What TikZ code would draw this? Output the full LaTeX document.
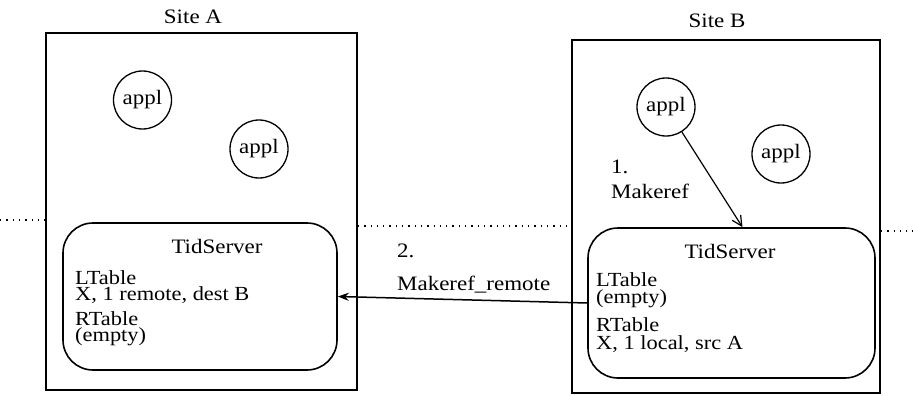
\documentclass[tikz,border=0pt]{standalone}
\usepackage{fontspec}
\setmainfont{Liberation Serif}[FakeStretch=1.12]
\usetikzlibrary{arrows.meta}
\begin{document}
\begin{tikzpicture}[x=1pt,y=-1pt,
  every node/.style={font=\fontsize{20.5}{25}\selectfont},
  sitebox/.style={draw,line width=1.8pt,inner sep=0pt},
  txt/.style={inner sep=0pt,anchor=base west},
  lbl/.style={inner sep=0pt,anchor=base},
  tbl/.style={inner sep=0pt,anchor=north west,align=left,
    font={\fontsize{20}{#1}\selectfont\lineskiplimit=-30pt}},
  appl/.style={draw,circle,line width=1.3pt,minimum size=58pt,inner sep=0pt},
  tid/.style={draw,rounded corners=30pt,line width=1.6pt,inner sep=0pt},
  dots/.style={line width=1.3pt,dash pattern=on 1.3pt off 5pt},
  msgA/.style={line width=1.5pt,-{Stealth[length=11pt,width=8pt]}},
  msgB/.style={line width=1.2pt,-{Straight Barb[length=10pt,width=10pt]}}]
\useasboundingbox (0,0) rectangle (913,396);

% site boxes
\node[sitebox,minimum width=311pt,minimum height=357pt] (boxA) at (201.5,211.5) {};
\node[sitebox,minimum width=308pt,minimum height=353pt] (boxB) at (726,216.5) {};
\node[lbl] (siteA) at (193,24) {Site A};
\node[lbl] (siteB) at (717,28) {Site B};

% dotted separator
\coordinate (dl) at (0,220);
\coordinate (dm) at (360,226);
\coordinate (dr) at (913,231);
\draw[dots] (dl) -- (dl -| boxA.west);
\draw[dots] (dm -| boxA.east) -- (dm -| boxB.west);
\draw[dots] (dr -| boxB.east) -- (dr);

% applications
\node[appl] (a1) at (142.5,100) {appl};
\node[appl] (a2) at (259,149) {appl};
\node[appl] (b1) at (666,107) {appl};
\node[appl] (b2) at (781,154) {appl};

% TidServers
\node[tid,minimum width=274pt,minimum height=147pt] (tsA) at (200,296.5) {};
\node[tid,minimum width=287pt,minimum height=150pt] (tsB) at (731.5,303) {};

\node[lbl] (tsAt) at (217,253) {TidServer};
\node[tbl=16pt] (tsAtxt) at (75,270.3)
  {LTable\\X, 1 remote, dest B\\[9pt]RTable\\(empty)};

\node[lbl] (tsBt) at (730,258) {TidServer};
\node[tbl=17.5pt] (tsBtxt) at (596,272.3)
  {LTable\\(empty)\\[10.5pt]RTable\\X, 1 local, src A};

% messages
\draw[msgB] (b1) -- ([xshift=11pt]tsB.north);
\node[txt] (m1a) at (611,173) {1.};
\node[txt] (m1b) at (611,198) {Makeref};

\draw[msgA] (tsB.west) -- (tsA.east);
\node[txt] (m2a) at (397,257) {2.};
\node[txt] (m2b) at (397,290) {Makeref\_remote};
\end{tikzpicture}
\end{document}
